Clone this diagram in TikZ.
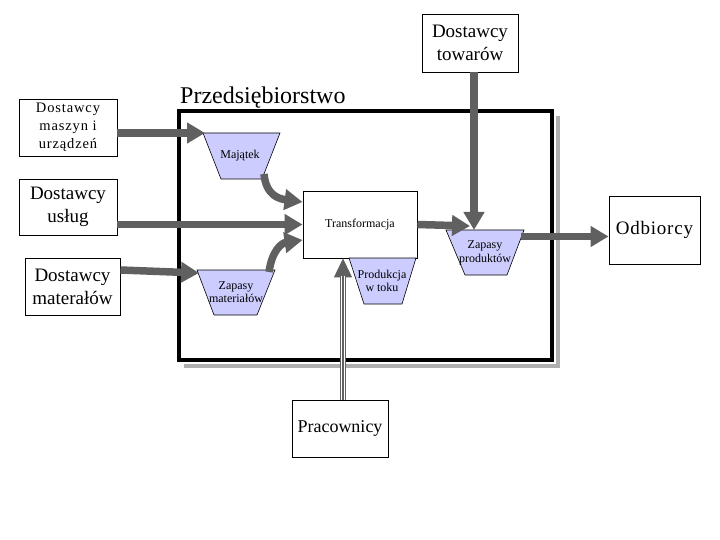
\documentclass[tikz,border=0pt]{standalone}
\usepackage{fontspec}
\setmainfont{Liberation Serif}
\usetikzlibrary{arrows.meta,calc}
\definecolor{arr}{RGB}{96,96,96}
\definecolor{lav}{RGB}{204,204,255}
\definecolor{shad}{RGB}{175,175,175}
\begin{document}
\begin{tikzpicture}[x=1pt,y=-1pt,
  box/.style={draw=black,line width=0.9pt,fill=white,inner sep=0pt,align=center},
  bigtxt/.style={font=\fontsize{19}{23}\selectfont},
  smalltxt/.style={font=\fontsize{12}{13.5}\selectfont,align=center,inner sep=0pt},
  flow/.style={draw=arr,line width=7.5pt,-{Triangle[length=18pt,width=20pt]}},
  trap/.style={draw=black,line width=0.6pt,fill=lav}]
\useasboundingbox[fill=white] (0,0) rectangle (720,540);

% enterprise frame with shadow
\draw[shad,line width=4pt] (558,116) -- (558,366) -- (184,366);
\draw[black,line width=4pt] (179,111) rectangle (552,360);
\node[anchor=base west,inner sep=0pt,font=\fontsize{24}{28}\selectfont] (title) at (180,104) {Przedsiębiorstwo};

% outside boxes
\node[box,bigtxt,minimum width=96pt,minimum height=58pt] (tow) at (470,43) {Dostawcy\\towarów};
\node[box,font=\fontsize{14.5}{18}\selectfont,minimum width=98pt,minimum height=57pt] (mas) at (68,127.5) {\addfontfeature{LetterSpace=6}Dostawcy\\\addfontfeature{LetterSpace=6}maszyn i\\\addfontfeature{LetterSpace=6}urządzeń};
\node[box,bigtxt,minimum width=98pt,minimum height=56pt] (usl) at (68,207) {Dostawcy\\usług};
\node[box,bigtxt,minimum width=95pt,minimum height=57pt] (mat) at (72.5,286.5) {Dostawcy\\materałów};
\node[box,bigtxt,minimum width=91pt,minimum height=68pt] (odb) at (654.5,230) {\addfontfeature{LetterSpace=4}Odbiorcy};
\node[box,font=\fontsize{18}{22}\selectfont,minimum width=96pt,minimum height=57pt] (pra) at (340,428.5) {Pracownicy};

% transformation
\node[box,font=\fontsize{12}{14}\selectfont,minimum width=114pt,minimum height=67pt] (tr) at (360,224.5) {Transformacja};

% stocks (trapezoids)
\path[trap] (203,133) -- (280,133) -- (262,179) -- (221,179) -- cycle;
\node[smalltxt] (maj) at (240,156) {Majątek};
\path[trap] (197,270) -- (275,270) -- (257,315) -- (214,315) -- cycle;
\node[smalltxt] (zmat) at (236,292) {Zapasy\\materiałów};
\path[trap] (349,258) -- (416,258) -- (402,304) -- (364,304) -- cycle;
\node[smalltxt] (prod) at (382,281) {Produkcja\\w toku};
\path[trap] (446,230) -- (524,230) -- (507,275) -- (465,275) -- cycle;
\node[smalltxt] (zprod) at (485,253) {Zapasy\\produktów};

\coordinate (majTL) at (205,133);
\coordinate (majB) at (264,174);
\coordinate (zmatTL) at (199,273);
\coordinate (zmatT) at (269,272);
\coordinate (zprodTL) at (470,226);
\coordinate (zprodT) at (474,230);
\coordinate (zprodR) at (521,236.5);

% flows
\draw[flow] ([yshift=-5.5pt]mas.east) -- (majTL);
\draw[flow] (usl.east |- tr.west) -- (tr.west);
\draw[flow] (majB) .. controls (266,196) and (280,199) .. ([yshift=22.5pt]tr.west);
\draw[flow] ([yshift=16.5pt]mat.east) -- (zmatTL);
\draw[flow] (zmatT) .. controls (272,250) and (282,243) .. ([yshift=-15.5pt]tr.west);
\draw[flow] (tr.east) -- (zprodTL);
\draw[flow] ([xshift=4pt]tow.south) -- (zprodT);
\draw[flow] (zprodR) -- (odb.west |- zprodR);

% workers (triple-line arrow)
\coordinate (praT) at ([xshift=3pt]pra.north);
\coordinate (praTip) at (praT |- tr.south);
\draw[arr,line width=1.2pt,-{Triangle[length=19pt,width=18pt]}] (praT) -- (praTip);
\draw[arr,line width=5.6pt] (praT) -- ([yshift=-18pt]praTip);
\draw[white,line width=3.4pt] (praT) -- ([yshift=-18pt]praTip);
\draw[arr,line width=1.2pt] (praT) -- ([yshift=-18pt]praTip);
\end{tikzpicture}
\end{document}
